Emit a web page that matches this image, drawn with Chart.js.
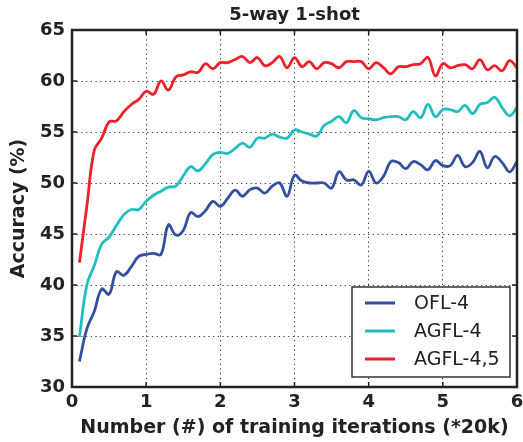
<!DOCTYPE html>
<html>
<head>
<meta charset="utf-8">
<script src="https://cdn.jsdelivr.net/npm/chart.js@4"></script>
<style>
  html, body { margin: 0; padding: 0; background: #fff; }
  #wrap { width: 523px; height: 442px; }
</style>
</head>
<body>
<div id="wrap"><canvas id="acc-chart" width="523" height="442"></canvas></div>
<script>
// iterations (*20k)
const iters = [
  0.1, 0.2, 0.3, 0.4, 0.5, 0.6, 0.7, 0.8, 0.9, 1.0,
  1.1, 1.2, 1.3, 1.4, 1.5, 1.6, 1.7, 1.8, 1.9, 2.0,
  2.1, 2.2, 2.3, 2.4, 2.5, 2.6, 2.7, 2.8, 2.9, 3.0,
  3.1, 3.2, 3.3, 3.4, 3.5, 3.6, 3.7, 3.8, 3.9, 4.0,
  4.1, 4.2, 4.3, 4.4, 4.5, 4.6, 4.7, 4.8, 4.9, 5.0,
  5.1, 5.2, 5.3, 5.4, 5.5, 5.6, 5.7, 5.8, 5.9, 6.0
]
const seriesNames = ['OFL-4', 'AGFL-4', 'AGFL-4,5']
const ofl4 = [
  32.5, 35.7, 37.4, 39.6, 39.1, 41.3, 40.95, 41.8, 42.8, 43.0,
  43.1, 43.0, 45.9, 44.9, 45.35, 47.1, 46.7, 47.3, 48.2, 47.7,
  48.5, 49.3, 48.7, 49.35, 49.5, 49.0, 49.7, 50.0, 48.7, 50.75,
  50.2, 50.0, 50.0, 50.0, 49.5, 51.1, 50.3, 50.3, 49.8, 51.15,
  50.0, 50.65, 52.1, 52.0, 51.4, 52.1, 51.8, 51.3, 52.2, 51.7,
  51.7, 52.7, 51.6, 52.0, 53.1, 51.5, 52.6, 52.0, 51.1, 52.1
]
const agfl4 = [
  34.9, 40.0, 41.9, 44.0, 44.7, 45.85, 46.9, 47.4, 47.4, 48.2,
  48.8, 49.2, 49.6, 49.7, 50.7, 51.6, 51.2, 51.9, 52.8, 53.0,
  52.9, 53.4, 53.9, 53.5, 54.4, 54.4, 54.8, 54.5, 54.4, 55.2,
  55.0, 54.8, 54.6, 55.65, 56.05, 56.5, 55.9, 57.1, 56.4, 56.3,
  56.2, 56.4, 56.5, 56.5, 56.2, 57.0, 56.4, 57.7, 56.5, 57.2,
  57.2, 57.0, 57.6, 56.8, 57.7, 57.9, 58.4, 57.4, 56.6, 57.4
]
const agfl45 = [
  42.2, 47.7, 53.2, 54.4, 56.0, 56.1, 57.0, 57.7, 58.2, 59.0,
  58.7, 60.0, 59.1, 60.4, 60.6, 60.9, 60.85, 61.7, 61.2, 61.8,
  61.8, 62.1, 62.4, 61.8, 62.3, 61.5, 61.8, 62.4, 61.3, 62.3,
  61.4, 61.9, 61.2, 61.8, 61.7, 61.3, 61.9, 61.9, 61.9, 61.2,
  61.8, 61.3, 60.7, 61.4, 61.4, 61.6, 61.7, 62.3, 60.5, 61.7,
  61.3, 61.5, 61.6, 61.2, 62.1, 61.1, 61.5, 61.0, 62.0, 61.3
]
const xTicks = [0, 1, 2, 3, 4, 5, 6]
const yTicks = [30, 35, 40, 45, 50, 55, 60, 65]
const chartTitle = '5-way 1-shot'

const colors = ['rgb(52, 78, 160)', 'rgb(32, 190, 190)', 'rgb(238, 32, 40)']
const fontFamily = '"DejaVu Sans", sans-serif'

const toPoints = (vals) => vals.map((v, i) => ({x: iters[i], y: v}))

// title over the plot, frame, inward ticks and the legend box in the lower right corner
const framePlugin = {
  id: 'frame',
  afterDraw: (chart) => {
    const ctx = chart.ctx
    const {left, right, top, bottom} = chart.chartArea
    const xs = chart.scales.x, ys = chart.scales.y
    ctx.save()

    ctx.fillStyle = '#222'
    ctx.font = 'bold 18px ' + fontFamily
    ctx.textAlign = 'center'
    ctx.textBaseline = 'middle'
    ctx.fillText(chartTitle, (left + right) / 2, top - 15)

    ctx.strokeStyle = '#222'
    ctx.lineWidth = 1.5
    ctx.beginPath()
    xTicks.forEach(t => {
      const px = xs.getPixelForValue(t)
      ctx.moveTo(px, bottom); ctx.lineTo(px, bottom - 5)
      ctx.moveTo(px, top); ctx.lineTo(px, top + 5)
    })
    yTicks.forEach(t => {
      const py = ys.getPixelForValue(t)
      ctx.moveTo(left, py); ctx.lineTo(left + 5, py)
      ctx.moveTo(right, py); ctx.lineTo(right - 5, py)
    })
    ctx.stroke()
    ctx.lineWidth = 2.5
    ctx.strokeRect(left, top, right - left, bottom - top)

    // legend
    const bx = right - 165, by = bottom - 100, bw = 158, bh = 90
    ctx.fillStyle = '#fff'
    ctx.fillRect(bx, by, bw, bh)
    ctx.strokeStyle = '#333'
    ctx.lineWidth = 1.5
    ctx.strokeRect(bx, by, bw, bh)
    ctx.font = '19px ' + fontFamily
    ctx.textBaseline = 'middle'
    ctx.textAlign = 'left'
    chart.data.datasets.forEach((ds, i) => {
      const ly = by + 16 + i * 28
      ctx.strokeStyle = ds.borderColor
      ctx.lineWidth = 3
      ctx.beginPath()
      ctx.moveTo(bx + 13, ly); ctx.lineTo(bx + 43, ly)
      ctx.stroke()
      ctx.fillStyle = '#222'
      ctx.fillText(ds.label, bx + 62, ly + 1)
    })
    ctx.restore()
  }
}

const createAccuracyChart = () => {
  const data = {
    datasets: [ofl4, agfl4, agfl45].map((vals, i) => ({
      label: seriesNames[i],
      data: toPoints(vals),
      borderColor: colors[i],
      backgroundColor: colors[i],
      borderWidth: 2.8,
      pointRadius: 0,
      tension: 0.4,
      fill: false
    }))
  }
  const config = {
    type: 'line',
    data: data,
    options: {
      responsive: false,
      animation: false,
      layout: { padding: { left: 0, right: 6, top: 30, bottom: 0 } },
      plugins: {
        legend: { display: false },
        tooltip: { enabled: false },
        title: { display: false }
      },
      scales: {
        x: {
          type: 'linear',
          min: 0,
          max: 6,
          afterBuildTicks: (scale) => { scale.ticks = xTicks.map(v => ({value: v})) },
          afterFit: (scale) => {
            scale.height = 55
            scale.paddingLeft = 0
            scale.paddingRight = 0
          },
          ticks: {
            color: '#222',
            padding: 5,
            font: { family: fontFamily, size: 18, weight: 'bold' }
          },
          grid: { color: '#333', lineWidth: 1, drawTicks: false },
          border: { display: false, dash: [1.2, 3.5] },
          title: {
            display: true,
            text: 'Number (#) of training iterations (*20k)',
            color: '#222',
            font: { family: fontFamily, size: 19, weight: 'bold' },
            padding: { top: 0, bottom: 3 }
          }
        },
        y: {
          min: 30,
          max: 65,
          afterBuildTicks: (scale) => { scale.ticks = yTicks.map(v => ({value: v})) },
          afterFit: (scale) => {
            scale.width = 72
            scale.paddingTop = 0
            scale.paddingBottom = 0
          },
          ticks: {
            color: '#222',
            padding: 7,
            font: { family: fontFamily, size: 18, weight: 'bold' }
          },
          grid: { color: '#333', lineWidth: 1, drawTicks: false },
          border: { display: false, dash: [1.2, 3.5] },
          title: {
            display: true,
            text: 'Accuracy (%)',
            color: '#222',
            font: { family: fontFamily, size: 19, weight: 'bold' },
            padding: { top: 8, bottom: 0 }
          }
        }
      }
    },
    plugins: [framePlugin]
  }
  new Chart(document.getElementById('acc-chart'), config)
}

createAccuracyChart()
</script>
</body>
</html>
